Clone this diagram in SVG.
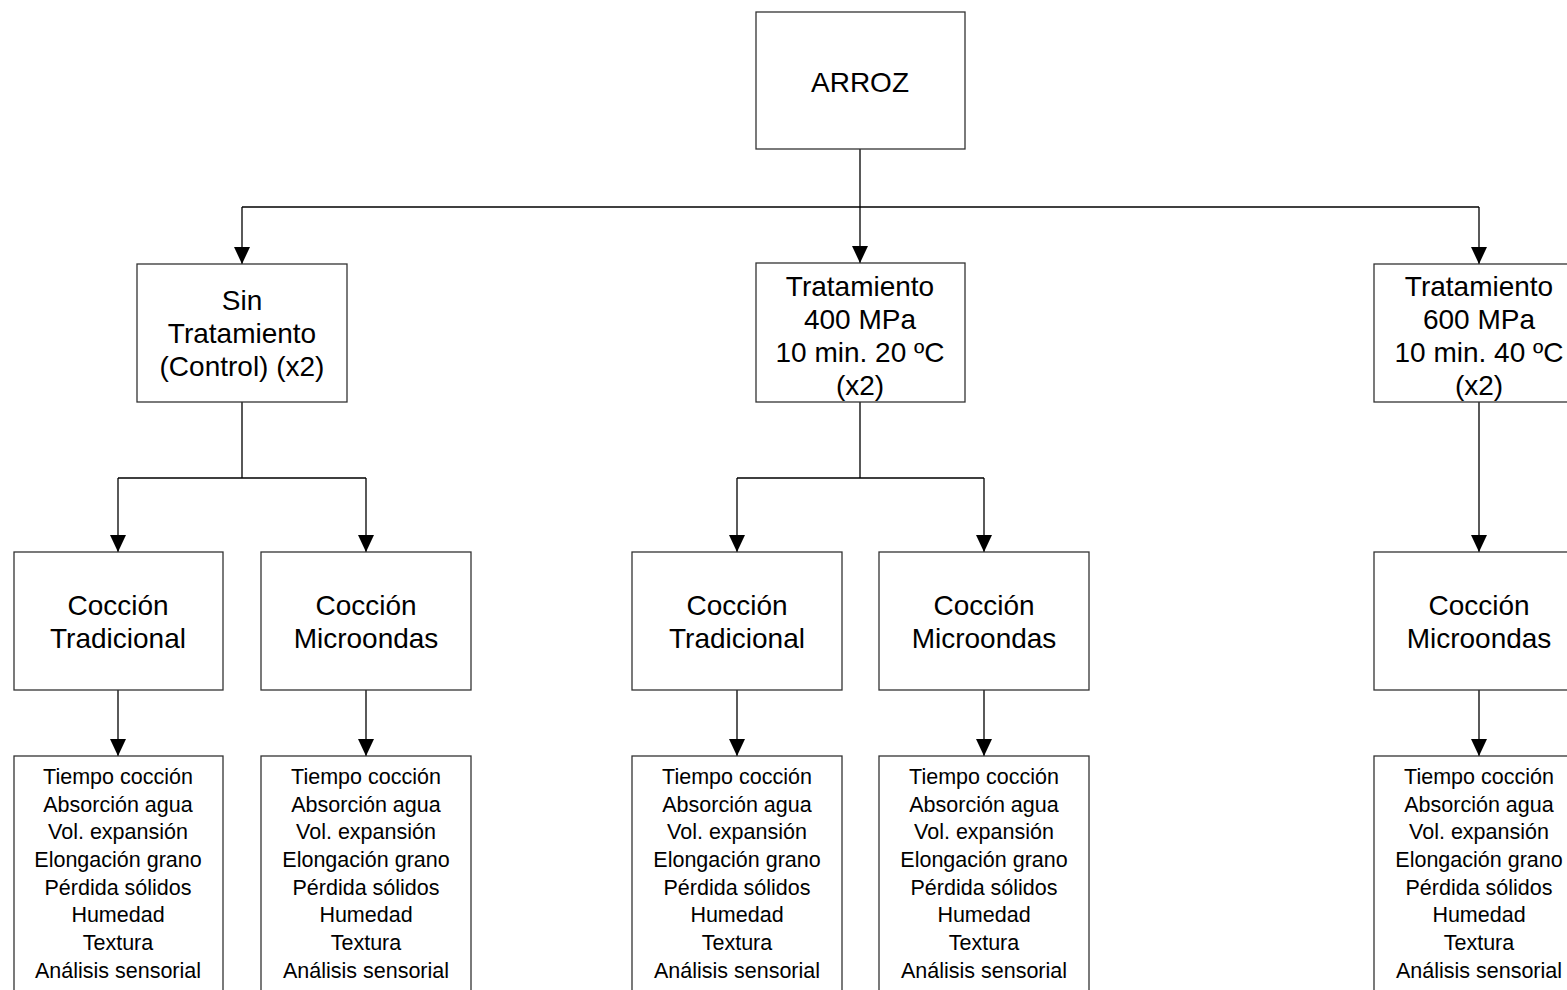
<svg xmlns="http://www.w3.org/2000/svg" width="1567" height="990" viewBox="0 0 1567 990">
<style>
.box{fill:#fff;stroke:#333;stroke-width:1.3}
.t{font-family:"Liberation Sans",Arial,sans-serif;font-size:28px;fill:#000;text-anchor:middle}
.s{font-family:"Liberation Sans",Arial,sans-serif;font-size:21.5px;fill:#000;text-anchor:middle}
.c{fill:none;stroke:#000;stroke-width:1.3}
</style>
<defs>
<marker id="ah" markerUnits="userSpaceOnUse" markerWidth="18" markerHeight="16" viewBox="0 0 18 16" refX="17" refY="8" orient="auto">
<polygon points="0,0 17,8 0,16" fill="#000"/>
</marker>
</defs>
<rect width="1567" height="990" fill="#fff"/>
<g id="connectors">
<path class="c" d="M860,149 V263" marker-end="url(#ah)"/>
<path class="c" d="M242,207 H1479"/>
<path class="c" d="M242,207 V264" marker-end="url(#ah)"/>
<path class="c" d="M1479,207 V264" marker-end="url(#ah)"/>
<path class="c" d="M242,402 V478 M118,478 H366"/>
<path class="c" d="M118,478 V552" marker-end="url(#ah)"/>
<path class="c" d="M366,478 V552" marker-end="url(#ah)"/>
<path class="c" d="M860,402 V478 M737,478 H984"/>
<path class="c" d="M737,478 V552" marker-end="url(#ah)"/>
<path class="c" d="M984,478 V552" marker-end="url(#ah)"/>
<path class="c" d="M1479,402 V552" marker-end="url(#ah)"/>
<path class="c" d="M118,690 V756" marker-end="url(#ah)"/>
<path class="c" d="M366,690 V756" marker-end="url(#ah)"/>
<path class="c" d="M737,690 V756" marker-end="url(#ah)"/>
<path class="c" d="M984,690 V756" marker-end="url(#ah)"/>
<path class="c" d="M1479,690 V756" marker-end="url(#ah)"/>
</g>
<g id="arroz">
<rect class="box" x="756" y="12" width="209" height="137"/>
<text class="t" x="860" y="92">ARROZ</text>
</g>
<g id="sin-tratamiento">
<rect class="box" x="137" y="264" width="210" height="138"/>
<text class="t" x="242" y="310">Sin</text>
<text class="t" x="242" y="343">Tratamiento</text>
<text class="t" x="242" y="376">(Control) (x2)</text>
</g>
<g id="tratamiento-400">
<rect class="box" x="756" y="263" width="209" height="139"/>
<text class="t" x="860" y="296">Tratamiento</text>
<text class="t" x="860" y="329">400 MPa</text>
<text class="t" x="860" y="362">10 min. 20 ºC</text>
<text class="t" x="860" y="395">(x2)</text>
</g>
<g id="tratamiento-600">
<rect class="box" x="1374" y="264" width="210" height="138"/>
<text class="t" x="1479" y="296">Tratamiento</text>
<text class="t" x="1479" y="329">600 MPa</text>
<text class="t" x="1479" y="362">10 min. 40 ºC</text>
<text class="t" x="1479" y="395">(x2)</text>
</g>
<g id="coccion-trad-1">
<rect class="box" x="14" y="552" width="209" height="138"/>
<text class="t" x="118" y="615">Cocción</text>
<text class="t" x="118" y="648">Tradicional</text>
</g>
<g id="coccion-micro-1">
<rect class="box" x="261" y="552" width="210" height="138"/>
<text class="t" x="366" y="615">Cocción</text>
<text class="t" x="366" y="648">Microondas</text>
</g>
<g id="coccion-trad-2">
<rect class="box" x="632" y="552" width="210" height="138"/>
<text class="t" x="737" y="615">Cocción</text>
<text class="t" x="737" y="648">Tradicional</text>
</g>
<g id="coccion-micro-2">
<rect class="box" x="879" y="552" width="210" height="138"/>
<text class="t" x="984" y="615">Cocción</text>
<text class="t" x="984" y="648">Microondas</text>
</g>
<g id="coccion-micro-3">
<rect class="box" x="1374" y="552" width="210" height="138"/>
<text class="t" x="1479" y="615">Cocción</text>
<text class="t" x="1479" y="648">Microondas</text>
</g>
<g id="analisis-1">
<rect class="box" x="14" y="756" width="209" height="260"/>
<text class="s" x="118" y="784">Tiempo cocción</text>
<text class="s" x="118" y="812">Absorción agua</text>
<text class="s" x="118" y="839">Vol. expansión</text>
<text class="s" x="118" y="867">Elongación grano</text>
<text class="s" x="118" y="895">Pérdida sólidos</text>
<text class="s" x="118" y="922">Humedad</text>
<text class="s" x="118" y="950">Textura</text>
<text class="s" x="118" y="978">Análisis sensorial</text>
</g>
<g id="analisis-2">
<rect class="box" x="261" y="756" width="210" height="260"/>
<text class="s" x="366" y="784">Tiempo cocción</text>
<text class="s" x="366" y="812">Absorción agua</text>
<text class="s" x="366" y="839">Vol. expansión</text>
<text class="s" x="366" y="867">Elongación grano</text>
<text class="s" x="366" y="895">Pérdida sólidos</text>
<text class="s" x="366" y="922">Humedad</text>
<text class="s" x="366" y="950">Textura</text>
<text class="s" x="366" y="978">Análisis sensorial</text>
</g>
<g id="analisis-3">
<rect class="box" x="632" y="756" width="210" height="260"/>
<text class="s" x="737" y="784">Tiempo cocción</text>
<text class="s" x="737" y="812">Absorción agua</text>
<text class="s" x="737" y="839">Vol. expansión</text>
<text class="s" x="737" y="867">Elongación grano</text>
<text class="s" x="737" y="895">Pérdida sólidos</text>
<text class="s" x="737" y="922">Humedad</text>
<text class="s" x="737" y="950">Textura</text>
<text class="s" x="737" y="978">Análisis sensorial</text>
</g>
<g id="analisis-4">
<rect class="box" x="879" y="756" width="210" height="260"/>
<text class="s" x="984" y="784">Tiempo cocción</text>
<text class="s" x="984" y="812">Absorción agua</text>
<text class="s" x="984" y="839">Vol. expansión</text>
<text class="s" x="984" y="867">Elongación grano</text>
<text class="s" x="984" y="895">Pérdida sólidos</text>
<text class="s" x="984" y="922">Humedad</text>
<text class="s" x="984" y="950">Textura</text>
<text class="s" x="984" y="978">Análisis sensorial</text>
</g>
<g id="analisis-5">
<rect class="box" x="1374" y="756" width="210" height="260"/>
<text class="s" x="1479" y="784">Tiempo cocción</text>
<text class="s" x="1479" y="812">Absorción agua</text>
<text class="s" x="1479" y="839">Vol. expansión</text>
<text class="s" x="1479" y="867">Elongación grano</text>
<text class="s" x="1479" y="895">Pérdida sólidos</text>
<text class="s" x="1479" y="922">Humedad</text>
<text class="s" x="1479" y="950">Textura</text>
<text class="s" x="1479" y="978">Análisis sensorial</text>
</g>
</svg>
